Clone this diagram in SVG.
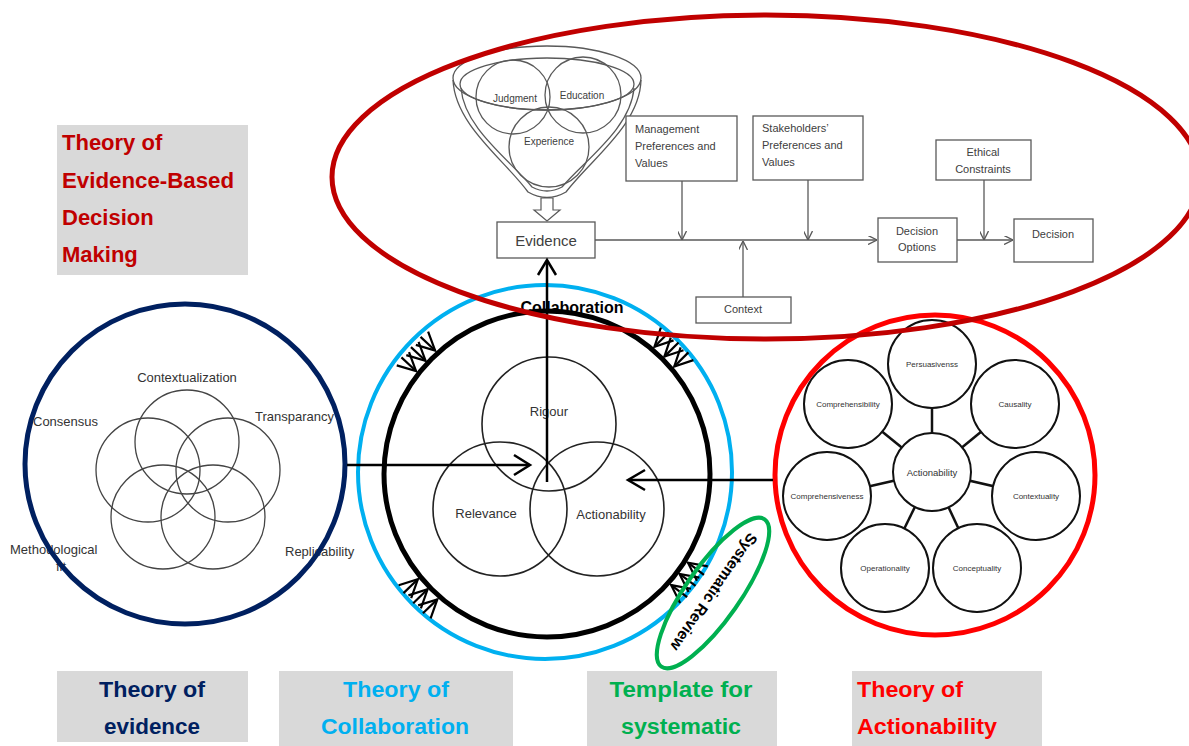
<svg xmlns="http://www.w3.org/2000/svg" width="1189" height="746" viewBox="0 0 1189 746">
<style>
.lbl{font-family:"Liberation Sans",Arial,sans-serif;font-weight:bold;font-size:22px}
.box{fill:#D9D9D9}
.sm{font-family:"Liberation Sans",Arial,sans-serif;font-size:13px;fill:#333}
.fc{font-family:"Liberation Sans",Arial,sans-serif;font-size:11px;fill:#404040}
.tiny{font-family:"Liberation Sans",Arial,sans-serif;font-size:8px;fill:#333;text-anchor:middle}
.fbox{fill:#fff;stroke:#595959;stroke-width:1.3}
.gl{fill:none;stroke:#595959;stroke-width:1.3}
.thin{fill:none;stroke:#444;stroke-width:1.3}
.ac{fill:#fff;stroke:#111;stroke-width:2}
.ax{fill:none;stroke:#000;stroke-width:2.5}
.chev{fill:none;stroke:#000;stroke-width:2.2}
</style>
<defs>
<marker id="ga" viewBox="0 0 10 10" refX="10" refY="5" markerWidth="9" markerHeight="9" markerUnits="userSpaceOnUse" orient="auto">
<path d="M0,0 L10,5 L0,10" fill="none" stroke="#595959" stroke-width="1.5"/>
</marker>
<g id="chevs">
<polyline class="chev" points="184,-23 166,-14 184,-5"/>
<polyline class="chev" points="184,-9 166,0 184,9"/>
<polyline class="chev" points="184,5 166,14 184,23"/>
<line class="chev" x1="166" y1="-14" x2="186" y2="-14" stroke-width="1.5"/>
<line class="chev" x1="166" y1="0" x2="186" y2="0" stroke-width="1.5"/>
<line class="chev" x1="166" y1="14" x2="186" y2="14" stroke-width="1.5"/>
</g>
</defs>
<rect width="1189" height="746" fill="#fff"/>

<!-- title boxes -->
<g id="title-ebdm">
<rect class="box" x="57" y="125" width="191" height="150"/>
<g class="lbl" fill="#C00000">
<text x="62" y="150">Theory of</text>
<text x="62" y="188" textLength="172" lengthAdjust="spacingAndGlyphs">Evidence-Based</text>
<text x="62" y="225">Decision</text>
<text x="62" y="262">Making</text>
</g>
</g>
<g id="title-evidence">
<rect class="box" x="57" y="671" width="191" height="71"/>
<text class="lbl" fill="#002060" x="152" y="697" text-anchor="middle" textLength="106" lengthAdjust="spacingAndGlyphs">Theory of</text>
<text class="lbl" fill="#002060" x="152" y="734" text-anchor="middle" textLength="96" lengthAdjust="spacingAndGlyphs">evidence</text>
</g>
<g id="title-collab">
<rect class="box" x="279" y="671" width="234" height="75"/>
<text class="lbl" fill="#00B0F0" x="396" y="697" text-anchor="middle" textLength="106" lengthAdjust="spacingAndGlyphs">Theory of</text>
<text class="lbl" fill="#00B0F0" x="395" y="734" text-anchor="middle" textLength="148" lengthAdjust="spacingAndGlyphs">Collaboration</text>
</g>
<g id="title-template">
<rect class="box" x="587" y="671" width="190" height="75"/>
<text class="lbl" fill="#00B050" x="681" y="697" text-anchor="middle" textLength="143" lengthAdjust="spacingAndGlyphs">Template for</text>
<text class="lbl" fill="#00B050" x="681" y="734" text-anchor="middle" textLength="120" lengthAdjust="spacingAndGlyphs">systematic</text>
</g>
<g id="title-action">
<rect class="box" x="852" y="671" width="190" height="75"/>
<text class="lbl" fill="#FF0000" x="857" y="697" textLength="106" lengthAdjust="spacingAndGlyphs">Theory of</text>
<text class="lbl" fill="#FF0000" x="857" y="734" textLength="140" lengthAdjust="spacingAndGlyphs">Actionability</text>
</g>

<!-- theory of evidence -->
<g id="evidence-theory">
<circle class="thin" cx="187" cy="442" r="52"/>
<circle class="thin" cx="148" cy="470" r="52"/>
<circle class="thin" cx="228" cy="470" r="52"/>
<circle class="thin" cx="163" cy="517" r="52"/>
<circle class="thin" cx="213" cy="517" r="52"/>
<text class="sm" x="187" y="382" text-anchor="middle">Contextualization</text>
<text class="sm" x="33" y="426">Consensus</text>
<text class="sm" x="255" y="421">Transparancy</text>
<text class="sm" x="10" y="554">Methodological</text>
<text class="sm" x="61" y="571" text-anchor="middle">fit</text>
<text class="sm" x="285" y="556">Replicability</text>
<circle cx="185" cy="464" r="160" fill="none" stroke="#002060" stroke-width="5"/>
</g>

<!-- collaboration -->
<g id="collaboration">
<circle cx="545" cy="472" r="187" fill="none" stroke="#00B0F0" stroke-width="4"/>
<circle cx="547" cy="474" r="163" fill="none" stroke="#000" stroke-width="5"/>
<circle cx="549" cy="424" r="67" fill="none" stroke="#222" stroke-width="1.6"/>
<circle cx="500" cy="509" r="67" fill="none" stroke="#222" stroke-width="1.6"/>
<circle cx="597" cy="509" r="67" fill="none" stroke="#222" stroke-width="1.6"/>
<text class="sm" x="549" y="416" text-anchor="middle">Rigour</text>
<text class="sm" x="486" y="518" text-anchor="middle">Relevance</text>
<text class="sm" x="611" y="519" text-anchor="middle">Actionability</text>
<text x="572" y="313" text-anchor="middle" font-family="Liberation Sans, Arial, sans-serif" font-weight="bold" font-size="16" fill="#000">Collaboration</text>
<use href="#chevs" transform="translate(547,474) rotate(-137)"/>
<use href="#chevs" transform="translate(547,474) rotate(-45)"/>
<use href="#chevs" transform="translate(547,474) rotate(136)"/>
<use href="#chevs" transform="translate(547,474) rotate(37)"/>
</g>

<!-- actionability -->
<g id="actionability-theory">
<g stroke="#111" stroke-width="2.5">
<line x1="932" y1="472" x2="932" y2="364"/>
<line x1="932" y1="472" x2="848" y2="404"/>
<line x1="932" y1="472" x2="1015" y2="404"/>
<line x1="932" y1="472" x2="827" y2="496"/>
<line x1="932" y1="472" x2="1036" y2="496"/>
<line x1="932" y1="472" x2="885" y2="568"/>
<line x1="932" y1="472" x2="977" y2="568"/>
</g>
<circle class="ac" cx="932" cy="364" r="44"/>
<circle class="ac" cx="848" cy="404" r="44"/>
<circle class="ac" cx="1015" cy="404" r="44"/>
<circle class="ac" cx="827" cy="496" r="44"/>
<circle class="ac" cx="1036" cy="496" r="44"/>
<circle class="ac" cx="885" cy="568" r="44"/>
<circle class="ac" cx="977" cy="568" r="44"/>
<circle class="ac" cx="932" cy="472" r="39"/>
<text class="tiny" x="932" y="367">Persuasivenss</text>
<text class="tiny" x="848" y="407">Comprehensibility</text>
<text class="tiny" x="1015" y="407">Causality</text>
<text class="tiny" x="827" y="499">Comprehensiveness</text>
<text class="tiny" x="1036" y="499">Contextuality</text>
<text class="tiny" x="885" y="571">Operationality</text>
<text class="tiny" x="977" y="571">Conceptuality</text>
<text class="tiny" x="932" y="476" style="font-size:9.5px">Actionability</text>
<circle cx="935" cy="475" r="160" fill="none" stroke="#FF0000" stroke-width="5"/>
</g>

<!-- EBDM flowchart -->
<g id="funnel">
<path class="gl" d="M453,80 C455,125 505,160 528,192 Q547,203 566,192 C590,160 640,125 641,80"/>
<path class="gl" d="M461,88 C464,128 510,160 532,187 Q547,195 562,187 C585,160 631,128 634,88"/>
<ellipse class="gl" cx="547" cy="78" rx="94" ry="32"/>
<ellipse class="gl" cx="547" cy="84" rx="87" ry="26"/>
<circle class="gl" cx="513" cy="97" r="37"/>
<circle class="gl" cx="583" cy="95" r="38"/>
<circle class="gl" cx="549" cy="147" r="40"/>
<text class="fc" style="font-size:10px" x="515" y="102" text-anchor="middle">Judgment</text>
<text class="fc" style="font-size:10px" x="582" y="99" text-anchor="middle">Education</text>
<text class="fc" style="font-size:10px" x="549" y="145" text-anchor="middle">Experience</text>
<polygon points="541,198 553,198 553,210 560,210 547,221 534,210 541,210" fill="#fff" stroke="#595959" stroke-width="1.2"/>
</g>
<g id="evidence">
<rect class="fbox" x="497" y="222" width="98" height="36"/>
<text class="fc" style="font-size:15px" x="546" y="246" text-anchor="middle">Evidence</text>
</g>
<g id="management">
<rect class="fbox" x="626" y="116" width="111" height="65"/>
<text class="fc" x="635" y="133">Management</text>
<text class="fc" x="635" y="150">Preferences and</text>
<text class="fc" x="635" y="167">Values</text>
</g>
<g id="stakeholders">
<rect class="fbox" x="753" y="116" width="110" height="64"/>
<text class="fc" x="762" y="132">Stakeholders’</text>
<text class="fc" x="762" y="149">Preferences and</text>
<text class="fc" x="762" y="166">Values</text>
</g>
<g id="ethical">
<rect class="fbox" x="936" y="140" width="95" height="40"/>
<text class="fc" x="983" y="156" text-anchor="middle">Ethical</text>
<text class="fc" x="983" y="173" text-anchor="middle">Constraints</text>
</g>
<g id="decision-options">
<rect class="fbox" x="878" y="218" width="79" height="44"/>
<text class="fc" x="917" y="235" text-anchor="middle">Decision</text>
<text class="fc" x="917" y="251" text-anchor="middle">Options</text>
</g>
<g id="decision">
<rect class="fbox" x="1014" y="219" width="79" height="43"/>
<text class="fc" x="1053" y="238" text-anchor="middle">Decision</text>
</g>
<g id="context">
<rect class="fbox" x="696" y="297" width="95" height="26"/>
<text class="fc" x="743" y="313" text-anchor="middle">Context</text>
</g>

<!-- connectors -->
<g id="connectors">
<line class="gl" x1="595" y1="240" x2="877" y2="240" marker-end="url(#ga)"/>
<line class="gl" x1="682" y1="181" x2="682" y2="240" marker-end="url(#ga)"/>
<line class="gl" x1="808" y1="180" x2="808" y2="240" marker-end="url(#ga)"/>
<line class="gl" x1="743" y1="297" x2="743" y2="241" marker-end="url(#ga)"/>
<line class="gl" x1="984" y1="180" x2="984" y2="240" marker-end="url(#ga)"/>
<line class="gl" x1="957" y1="240" x2="1013" y2="240" marker-end="url(#ga)"/>
<line class="ax" x1="347" y1="465" x2="529" y2="465"/>
<polyline class="ax" points="514,455 530,465 514,475"/>
<line class="ax" x1="773" y1="480" x2="629" y2="480"/>
<polyline class="ax" points="645,470 628,480 645,490"/>
<line class="ax" x1="547" y1="482" x2="547" y2="261"/>
<polyline class="ax" points="538,275 547,260 556,275"/>
</g>

<!-- systematic review -->
<g id="systematic-review">
<ellipse cx="0" cy="0" rx="90" ry="27" fill="none" stroke="#00B050" stroke-width="4" transform="translate(713,593) rotate(125)"/>
<text x="0" y="5.5" text-anchor="middle" font-family="Liberation Sans, Arial, sans-serif" font-weight="bold" font-size="15.5" fill="#000" transform="translate(714,592) rotate(125)">Systematic Review</text>
</g>

<!-- EBDM ellipse -->
<g id="ebdm-ellipse">
<ellipse cx="766" cy="177" rx="434" ry="162" fill="none" stroke="#C00000" stroke-width="5"/>
</g>
</svg>
